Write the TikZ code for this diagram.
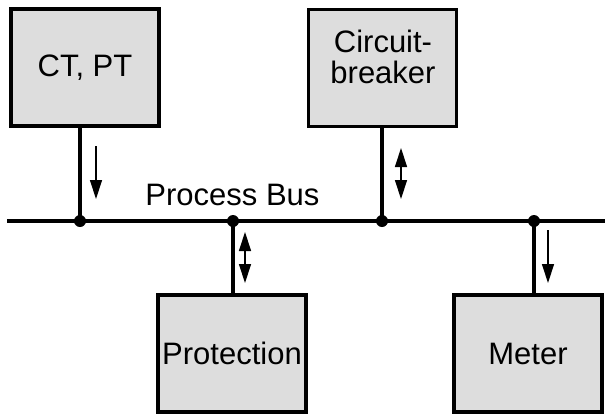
\documentclass[tikz,border=0pt]{standalone}
\usepackage{fontspec}
\setmainfont{Liberation Sans}
\usetikzlibrary{arrows.meta}
\definecolor{boxgray}{RGB}{221,221,221}
\tikzset{
  devbox/.style={draw=black, fill=boxgray, line width=3.5pt, minimum width=148pt, minimum height=117pt, inner sep=0pt, font=\fontsize{31}{31}\selectfont, align=center},
  busline/.style={line width=3.5pt},
  flow/.style={line width=1.3pt, -{Triangle[length=19pt,width=12pt]}},
  flowboth/.style={line width=1.3pt, {Triangle[length=19pt,width=12pt]}-{Triangle[length=19pt,width=12pt]}},
  junction/.style={circle, fill=black, inner sep=0pt, minimum size=12pt},
  txt/.style={font=\fontsize{31}{31}\selectfont, inner sep=0pt, align=center}
}
\begin{document}
\begin{tikzpicture}[x=1pt,y=-1pt]
\useasboundingbox (0,0) rectangle (605,416);
% boxes
\node[devbox] (ct) at (85,67.5) {CT, PT};
\node[devbox] (cb) at (382.5,68) {};
\node[txt] (cbtext) at (383,57) {Circuit-\\breaker};
\node[devbox] (prot) at (232,353.5) {Protection};
\node[devbox] (meter) at (528,353.5) {Meter};
% bus
\coordinate (busL) at (7,221);
\coordinate (busR) at (605,221);
\draw[busline] (busL) -- (busR);
\node[txt, anchor=base] (buslabel) at (232.5,205) {Process Bus};
% junctions
\node[junction] (j1) at (80,221) {};
\node[junction] (j2) at (233,221) {};
\node[junction] (j3) at (382,221) {};
\node[junction] (j4) at (534,221) {};
% drops
\draw[busline] (j1.center) -- (j1.center |- ct.south);
\draw[busline] (j3.center) -- (j3.center |- cb.south);
\draw[busline] (j2.center) -- (j2.center |- prot.north);
\draw[busline] (j4.center) -- (j4.center |- meter.north);
% arrows
\coordinate (a1s) at (96,146); \coordinate (a1e) at (96,199);
\coordinate (a2s) at (401,148); \coordinate (a2e) at (401,199);
\coordinate (a3s) at (245,232); \coordinate (a3e) at (245,283);
\coordinate (a4s) at (548,230); \coordinate (a4e) at (548,283);
\draw[flow] (a1s) -- (a1e);
\draw[flowboth] (a2s) -- (a2e);
\draw[flowboth] (a3s) -- (a3e);
\draw[flow] (a4s) -- (a4e);
\end{tikzpicture}
\end{document}
